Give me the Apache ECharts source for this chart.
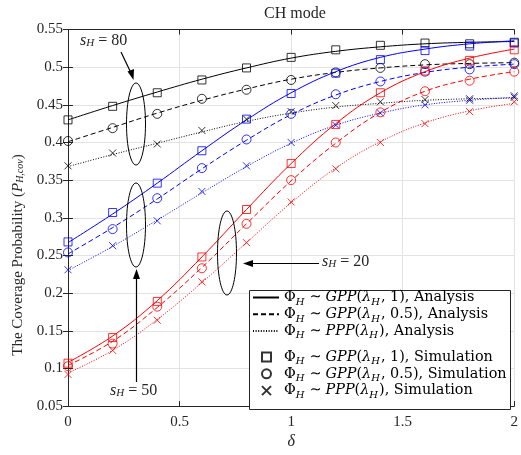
<!DOCTYPE html>
<html><head><meta charset="utf-8">
<script src="https://cdn.jsdelivr.net/npm/echarts@6/dist/echarts.min.js"></script>
<style>html,body{margin:0;padding:0;background:#fff}#c{width:521px;height:455px}</style>
</head><body><div id="c"></div>
<script>
const xs = [0,0.2,0.4,0.6,0.8,1.0,1.2,1.4,1.6,1.8,2.0];
const xTicks = ['0','0.5','1','1.5','2'];
// s_H = 80 (black)
const sim80_gpp1  = [0.430,0.448,0.466,0.483,0.499,0.513,0.523,0.529,0.532,0.531,0.533];
const sim80_gpp05 = [0.402,0.419,0.438,0.458,0.470,0.483,0.493,0.499,0.504,0.504,0.506];
const sim80_ppp   = [0.369,0.386,0.398,0.416,0.431,0.441,0.449,0.454,0.457,0.458,0.460];
const ana80_gpp1  = [0.430,0.449,0.467,0.484,0.499,0.512,0.521,0.527,0.531,0.533,0.534];
const ana80_gpp05 = [0.401,0.420,0.439,0.456,0.471,0.484,0.493,0.499,0.503,0.505,0.506];
const ana80_ppp   = [0.368,0.384,0.399,0.414,0.428,0.439,0.447,0.452,0.456,0.458,0.459];
// s_H = 50 (blue)
const sim50_gpp1  = [0.268,0.307,0.346,0.389,0.431,0.465,0.492,0.510,0.522,0.528,0.532];
const sim50_gpp05 = [0.254,0.285,0.326,0.366,0.404,0.438,0.464,0.481,0.494,0.497,0.504];
const sim50_ppp   = [0.231,0.263,0.296,0.335,0.369,0.400,0.423,0.439,0.450,0.456,0.462];
const ana50_gpp1  = [0.267,0.305,0.346,0.389,0.430,0.466,0.494,0.513,0.524,0.531,0.535];
const ana50_gpp05 = [0.252,0.287,0.325,0.365,0.403,0.437,0.463,0.481,0.493,0.500,0.504];
const ana50_ppp   = [0.230,0.262,0.297,0.333,0.368,0.399,0.423,0.439,0.450,0.456,0.460];
// s_H = 20 (red)
const sim20_gpp1  = [0.107,0.141,0.189,0.248,0.311,0.372,0.424,0.466,0.495,0.509,0.523];
const sim20_gpp05 = [0.103,0.133,0.182,0.233,0.292,0.350,0.400,0.440,0.468,0.482,0.494];
const sim20_ppp   = [0.092,0.124,0.164,0.215,0.267,0.321,0.365,0.400,0.425,0.441,0.454];
const ana20_gpp1  = [0.108,0.143,0.190,0.248,0.311,0.372,0.425,0.466,0.494,0.512,0.524];
const ana20_gpp05 = [0.104,0.136,0.181,0.234,0.292,0.349,0.399,0.440,0.468,0.484,0.494];
const ana20_ppp   = [0.094,0.124,0.165,0.214,0.267,0.320,0.366,0.401,0.426,0.442,0.452];

const SERIF = '"Liberation Serif","DejaVu Serif",serif';
const LSERIF = '"DejaVu Serif","Liberation Serif",serif';
const pairs = a => xs.map((x,i)=>[x,a[i]]);
const XPATH = 'path://M0,0L10,10M10,0L0,10';
const DASH = [5,3], DOT = [1,1.6];

function ana(name, data, color, type){
  return {name, type:'line', data:pairs(data), symbol:'none', smooth:0.4,
    lineStyle:{color, width:1, type}, z:2, silent:true};
}
function sim(name, data, color, shape){
  const sym = shape==='sq'?'rect':shape==='ci'?'circle':XPATH;
  const size = shape==='sq'?8:shape==='ci'?9:7;
  return {name, type:'scatter', data:pairs(data), symbol:sym, symbolSize:size,
    itemStyle:{color:'transparent', borderColor:color, borderWidth:1}, z:3, silent:true};
}
const series = [
  ana('a80_1',ana80_gpp1,'#000','solid'), ana('a80_2',ana80_gpp05,'#000',DASH), ana('a80_3',ana80_ppp,'#000',DOT),
  ana('a50_1',ana50_gpp1,'#0000ff','solid'), ana('a50_2',ana50_gpp05,'#0000ff',DASH), ana('a50_3',ana50_ppp,'#0000ff',DOT),
  ana('a20_1',ana20_gpp1,'#ff0000','solid'), ana('a20_2',ana20_gpp05,'#ff0000',DASH), ana('a20_3',ana20_ppp,'#ff0000',DOT),
  sim('s80_1',sim80_gpp1,'#000','sq'), sim('s80_2',sim80_gpp05,'#000','ci'), sim('s80_3',sim80_ppp,'#000','x'),
  sim('s50_1',sim50_gpp1,'#0000ff','sq'), sim('s50_2',sim50_gpp05,'#0000ff','ci'), sim('s50_3',sim50_ppp,'#0000ff','x'),
  sim('s20_1',sim20_gpp1,'#ff0000','sq'), sim('s20_2',sim20_gpp05,'#ff0000','ci'), sim('s20_3',sim20_ppp,'#ff0000','x'),
  // legend proxies
  {name:'L1', type:'line', data:[], symbol:'none', lineStyle:{color:'#000',width:1,type:'solid'}, itemStyle:{color:'#000',opacity:0}},
  {name:'L2', type:'line', data:[], symbol:'none', lineStyle:{color:'#000',width:1,type:DASH}, itemStyle:{color:'#000',opacity:0}},
  {name:'L3', type:'line', data:[], symbol:'none', lineStyle:{color:'#000',width:1,type:DOT}, itemStyle:{color:'#000',opacity:0}},
  {name:'L4', type:'scatter', data:[], symbol:'rect', itemStyle:{color:'transparent',borderColor:'#000',borderWidth:1.3}},
  {name:'L5', type:'scatter', data:[], symbol:'circle', itemStyle:{color:'transparent',borderColor:'#000',borderWidth:1.3}},
  {name:'L6', type:'scatter', data:[], symbol:XPATH, itemStyle:{color:'transparent',borderColor:'#000',borderWidth:1.3}}
];
const legendText = {
  L1:'{r|Φ}{s|H}{t|∼}{m|GPP}{r|(}{m|λ}{s|H}{r|, 1), Analysis}',
  L2:'{r|Φ}{s|H}{t|∼}{m|GPP}{r|(}{m|λ}{s|H}{r|, 0.5), Analysis}',
  L3:'{r|Φ}{s|H}{t|∼}{m|PPP}{r|(}{m|λ}{s|H}{r|), Analysis}',
  L4:'{g| }{r|Φ}{s|H}{t|∼}{m|GPP}{r|(}{m|λ}{s|H}{r|, 1), Simulation}',
  L5:'{g| }{r|Φ}{s|H}{t|∼}{m|GPP}{r|(}{m|λ}{s|H}{r|, 0.5), Simulation}',
  L6:'{g| }{r|Φ}{s|H}{t|∼}{m|PPP}{r|(}{m|λ}{s|H}{r|), Simulation}'
};
const LH = 19.6;
const rich = {
  r:{fontFamily:LSERIF, fontSize:14.4, color:'#000', lineHeight:LH},
  t:{fontFamily:LSERIF, fontSize:14.4, color:'#000', lineHeight:LH, padding:[0,4,0,4]},
  m:{fontFamily:LSERIF, fontSize:14.4, fontStyle:'italic', color:'#000', lineHeight:LH},
  s:{fontFamily:LSERIF, fontSize:10, fontStyle:'italic', color:'#000', lineHeight:LH, verticalAlign:'bottom', padding:[0,1,0,0]},
  g:{fontFamily:LSERIF, fontSize:14.4, width:8, lineHeight:LH}
};
const legendBase = {orient:'vertical', itemGap:0, formatter:n=>legendText[n],
  textStyle:{rich, fontFamily:LSERIF, fontSize:14.4}, selectedMode:false, z:10, padding:0};

const grid = {left:68, right:6, top:29.5, bottom:41, containLabel:false};
const axisCommon = {axisLine:{show:true,lineStyle:{color:'#262626',width:1}},
  axisTick:{show:true,inside:true,length:5,lineStyle:{color:'#262626'}}};
const annRich = {
  i:{fontFamily:SERIF, fontSize:16, fontStyle:'italic', fill:'#262626'},
  s:{fontFamily:SERIF, fontSize:11, fontStyle:'italic', fill:'#262626', verticalAlign:'bottom'},
  r:{fontFamily:SERIF, fontSize:16, fill:'#262626'}
};

const chart = echarts.init(document.getElementById('c'), null, {renderer:'canvas'});
chart.setOption({
  backgroundColor:'#fff',
  animation:false,
  title:{text:'CH mode', left:290, top:1, textAlign:'center',
    textStyle:{fontFamily:SERIF, fontSize:16, fontWeight:'normal', color:'#262626'}},
  grid,
  xAxis:[
    Object.assign({type:'value', min:0, max:2, interval:0.5, position:'bottom',
      axisLabel:{fontFamily:SERIF, fontSize:15, color:'#262626', margin:8,
        formatter:v=>xTicks[Math.round(v/0.5)]},
      splitLine:{show:true, lineStyle:{color:'#e3e3e3', width:1}},
      name:'δ', nameLocation:'middle', nameGap:27,
      nameTextStyle:{fontFamily:SERIF, fontSize:16, fontStyle:'italic', color:'#262626'}}, axisCommon),
    Object.assign({type:'value', min:0, max:2, interval:0.5, position:'top',
      axisLabel:{show:false}, splitLine:{show:false}}, axisCommon)
  ],
  yAxis:[
    Object.assign({type:'value', min:0.05, max:0.55, interval:0.05, position:'left',
      axisLabel:{fontFamily:SERIF, fontSize:15, color:'#262626', margin:5,
        formatter:v=>String(+v.toFixed(2))},
      splitLine:{show:true, lineStyle:{color:'#e3e3e3', width:1}}}, axisCommon),
    Object.assign({type:'value', min:0.05, max:0.55, interval:0.05, position:'right',
      axisLabel:{show:false}, splitLine:{show:false}}, axisCommon)
  ],
  legend:[
    Object.assign({}, legendBase, {data:['L1','L2','L3'], left:252, top:290.5, itemWidth:26, itemHeight:10,
      itemStyle:{opacity:0}}),
    Object.assign({}, legendBase, {data:['L4','L5','L6'], left:261, top:350, itemWidth:9, itemHeight:9})
  ],
  series,
  graphic:[
    {type:'rect', shape:{x:249.5, y:290.5, width:261, height:119}, style:{fill:'#fff', stroke:'#262626', lineWidth:1}, z:5},
    // y-axis title
    {type:'text', x:18, y:255, rotation:Math.PI/2, z:6, style:{align:'center', verticalAlign:'middle',
      rich:{
        r:{fontFamily:SERIF, fontSize:15, fill:'#262626'},
        m:{fontFamily:SERIF, fontSize:15, fontStyle:'italic', fill:'#262626'},
        s:{fontFamily:SERIF, fontSize:10, fontStyle:'italic', fill:'#262626', verticalAlign:'bottom'}},
      text:'{r|The Coverage Probability (}{m|P}{s|H,cov}{r|)}'}},
    // s_H = 80 annotation
    {type:'ellipse', shape:{cx:136, cy:124, rx:9.5, ry:41}, style:{fill:'none', stroke:'#000', lineWidth:1}, z:6},
    {type:'line', shape:{x1:121, y1:52, x2:131, y2:73}, style:{stroke:'#000', lineWidth:1.2}, z:6},
    {type:'polygon', shape:{points:[[133.5,80],[127.5,71.5],[134,69]]}, style:{fill:'#000'}, z:6},
    {type:'text', left:80, top:33, style:{rich:annRich, text:'{i|s}{s|H}{r| = 80}'}, z:6},
    // s_H = 50 annotation
    {type:'ellipse', shape:{cx:136, cy:225, rx:9.5, ry:42}, style:{fill:'none', stroke:'#000', lineWidth:1}, z:6},
    {type:'line', shape:{x1:136.5, y1:382, x2:136.5, y2:277}, style:{stroke:'#000', lineWidth:1.2}, z:6},
    {type:'polygon', shape:{points:[[136.5,269],[133,279],[140,279]]}, style:{fill:'#000'}, z:6},
    {type:'text', left:110, top:383, style:{rich:annRich, text:'{i|s}{s|H}{r| = 50}'}, z:6},
    // s_H = 20 annotation
    {type:'ellipse', shape:{cx:227, cy:253, rx:9.5, ry:42}, style:{fill:'none', stroke:'#000', lineWidth:1}, z:6},
    {type:'line', shape:{x1:319, y1:263.5, x2:251, y2:263.5}, style:{stroke:'#000', lineWidth:1.2}, z:6},
    {type:'polygon', shape:{points:[[243,263.5],[253,260],[253,267]]}, style:{fill:'#000'}, z:6},
    {type:'text', left:322, top:254, style:{rich:annRich, text:'{i|s}{s|H}{r| = 20}'}, z:6}
  ]
});
</script></body></html>
